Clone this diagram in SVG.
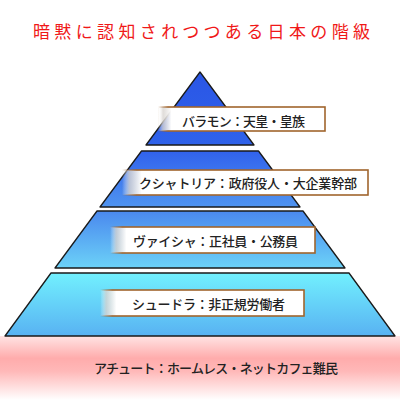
<svg xmlns="http://www.w3.org/2000/svg" width="400" height="400" viewBox="0 0 400 400">
<style>
.tier{stroke:#1a1a1a;stroke-width:1.3;stroke-linejoin:round}
.box{fill:url(#boxfill);stroke:url(#boxstroke);stroke-width:1.6}
.lbl{font-family:"Noto Sans CJK JP","Noto Sans",sans-serif;font-size:13px;font-weight:500;fill:#222;dominant-baseline:central}
.title{font-family:"Noto Sans CJK JP","Noto Sans",sans-serif;font-size:17px;fill:#f01818}
</style>
<defs>
<linearGradient id="pink" x1="0" y1="0" x2="0" y2="1">
<stop offset="0" stop-color="#ffe4e4"/>
<stop offset="0.35" stop-color="#ffacac"/>
<stop offset="0.55" stop-color="#ffb8b8"/>
<stop offset="1" stop-color="#ffffff"/>
</linearGradient>
<linearGradient id="g1" x1="0" y1="0" x2="0" y2="1">
<stop offset="0" stop-color="#2a56e6"/>
<stop offset="1" stop-color="#2f62ea"/>
</linearGradient>
<linearGradient id="g2" x1="0" y1="0" x2="0" y2="1">
<stop offset="0" stop-color="#3162ec"/>
<stop offset="1" stop-color="#4f94f0"/>
</linearGradient>
<linearGradient id="g3" x1="0" y1="0" x2="0" y2="1">
<stop offset="0" stop-color="#4a88ee"/>
<stop offset="1" stop-color="#6cd2f8"/>
</linearGradient>
<linearGradient id="g4" x1="0" y1="0" x2="0" y2="1">
<stop offset="0" stop-color="#72f0fe"/>
<stop offset="1" stop-color="#58b2f2"/>
</linearGradient>
<linearGradient id="boxfill" x1="0" y1="0" x2="1" y2="0">
<stop offset="0" stop-color="#ffffff" stop-opacity="0"/>
<stop offset="0.03" stop-color="#d8d4d0" stop-opacity="0.8"/>
<stop offset="0.08" stop-color="#ffffff"/>
<stop offset="1" stop-color="#ffffff"/>
</linearGradient>
<linearGradient id="boxstroke" x1="0" y1="0" x2="1" y2="0">
<stop offset="0" stop-color="#a0642c" stop-opacity="0"/>
<stop offset="0.06" stop-color="#a0642c"/>
<stop offset="1" stop-color="#a0642c"/>
</linearGradient>
</defs>
<rect x="0" y="336" width="400" height="64" fill="url(#pink)"/>
<text class="title" x="33" y="38" textLength="337" lengthAdjust="spacing">暗黙に認知されつつある日本の階級</text>
<g id="tier1">
<polygon class="tier" fill="url(#g1)" points="200,72 254,145 146,145"/>
<rect class="box" x="158" y="107" width="167" height="24"/>
<text class="lbl" x="182" y="120" textLength="123" lengthAdjust="spacing">バラモン：天皇・皇族</text>
</g>
<g id="tier2">
<polygon class="tier" fill="url(#g2)" points="141.5,151 258.5,151 300,207 100,207"/>
<rect class="box" x="122" y="170" width="246" height="25"/>
<text class="lbl" x="139" y="182.5" textLength="218" lengthAdjust="spacing">クシャトリア：政府役人・大企業幹部</text>
</g>
<g id="tier3">
<polygon class="tier" fill="url(#g3)" points="97,211 303,211 345,268 55,268"/>
<rect class="box" x="110" y="227" width="205" height="26"/>
<text class="lbl" x="133" y="240" textLength="165" lengthAdjust="spacing">ヴァイシャ：正社員・公務員</text>
</g>
<g id="tier4">
<polygon class="tier" fill="url(#g4)" points="51,273 349,273 395,336 5,336"/>
<rect class="box" x="100" y="290" width="204" height="26"/>
<text class="lbl" x="132" y="303" textLength="153" lengthAdjust="spacing">シュードラ：非正規労働者</text>
</g>
<g id="outcast">
<text class="lbl" x="94" y="367" textLength="244" lengthAdjust="spacing">アチュート：ホームレス・ネットカフェ難民</text>
</g>
<g id="connectors"></g>
</svg>
